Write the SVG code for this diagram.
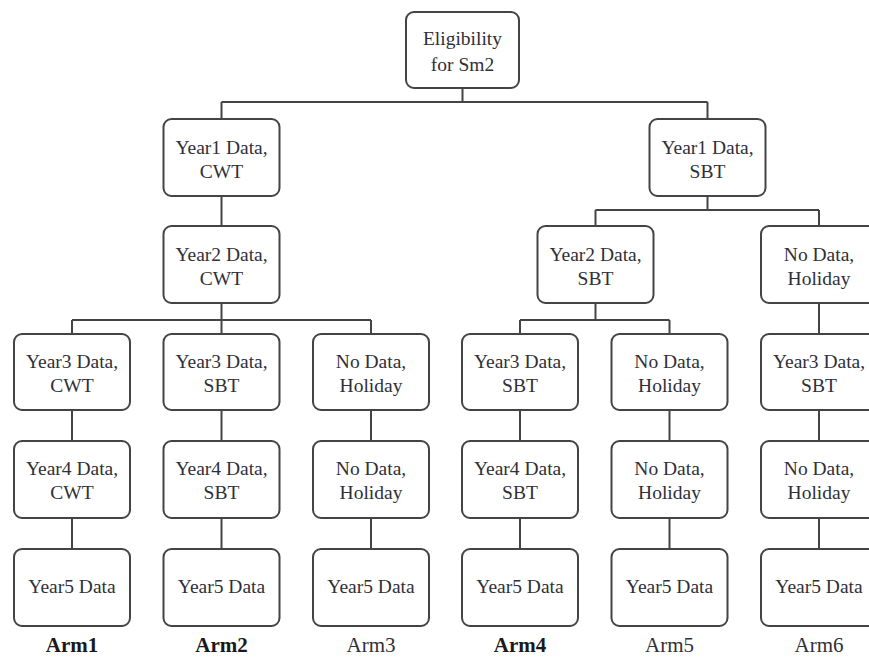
<svg xmlns="http://www.w3.org/2000/svg" width="869" height="658" viewBox="0 0 869 658">
<style>
.box{fill:#fff;stroke:#444;stroke-width:2}
.t{font-size:19.5px;fill:#2f3038;text-anchor:middle}
.arm{font-size:21px;fill:#2f3038;text-anchor:middle}
.b{font-weight:bold;fill:#1a1a1a}
.c{fill:none;stroke:#444;stroke-width:2}
</style>
<rect width="869" height="658" fill="#fff"/>
<g id="connectors">
<path class="c" d="M462.5 88V102M221.5 102H707.5M221.5 102V119M707.5 102V119"/>
<path class="c" d="M221.5 196V226M221.5 303V320M72 320H371M72 320V334M221.5 320V334M371 320V334"/>
<path class="c" d="M707.5 196V210M595.5 210H819M595.5 210V226M819 210V226"/>
<path class="c" d="M595.5 303V320M520 320H669.5M520 320V334M669.5 320V334M819 303V334"/>
<path class="c" d="M72 410V441M221.5 410V441M371 410V441M520 410V441M669.5 410V441M819 410V441"/>
<path class="c" d="M72 518V549M221.5 518V549M371 518V549M520 518V549M669.5 518V549M819 518V549"/>
</g>
<g font-family="Liberation Serif, serif">
<g id="root"><rect class="box" x="406" y="12" width="113" height="76" rx="8"/><text class="t" x="462.5" y="45">Eligibility</text><text class="t" x="462.5" y="71">for Sm2</text></g>
<g id="y1cwt"><rect class="box" x="163.5" y="119" width="116" height="77" rx="8"/><text class="t" x="221.5" y="154">Year1 Data,</text><text class="t" x="221.5" y="178">CWT</text></g>
<g id="y1sbt"><rect class="box" x="649.5" y="119" width="116" height="77" rx="8"/><text class="t" x="707.5" y="154">Year1 Data,</text><text class="t" x="707.5" y="178">SBT</text></g>
<g id="y2cwt"><rect class="box" x="163.5" y="226" width="116" height="77" rx="8"/><text class="t" x="221.5" y="261">Year2 Data,</text><text class="t" x="221.5" y="285">CWT</text></g>
<g id="y2sbt"><rect class="box" x="537.5" y="226" width="116" height="77" rx="8"/><text class="t" x="595.5" y="261">Year2 Data,</text><text class="t" x="595.5" y="285">SBT</text></g>
<g id="r2c6"><rect class="box" x="761" y="226" width="116" height="77" rx="8"/><text class="t" x="819" y="261">No Data,</text><text class="t" x="819" y="285">Holiday</text></g>
<g id="r3c1"><rect class="box" x="14" y="334" width="116" height="76" rx="8"/><text class="t" x="72" y="368">Year3 Data,</text><text class="t" x="72" y="392">CWT</text></g>
<g id="r3c2"><rect class="box" x="163.5" y="334" width="116" height="76" rx="8"/><text class="t" x="221.5" y="368">Year3 Data,</text><text class="t" x="221.5" y="392">SBT</text></g>
<g id="r3c3"><rect class="box" x="313" y="334" width="116" height="76" rx="8"/><text class="t" x="371" y="368">No Data,</text><text class="t" x="371" y="392">Holiday</text></g>
<g id="r3c4"><rect class="box" x="462" y="334" width="116" height="76" rx="8"/><text class="t" x="520" y="368">Year3 Data,</text><text class="t" x="520" y="392">SBT</text></g>
<g id="r3c5"><rect class="box" x="611.5" y="334" width="116" height="76" rx="8"/><text class="t" x="669.5" y="368">No Data,</text><text class="t" x="669.5" y="392">Holiday</text></g>
<g id="r3c6"><rect class="box" x="761" y="334" width="116" height="76" rx="8"/><text class="t" x="819" y="368">Year3 Data,</text><text class="t" x="819" y="392">SBT</text></g>
<g id="r4c1"><rect class="box" x="14" y="441" width="116" height="77" rx="8"/><text class="t" x="72" y="475">Year4 Data,</text><text class="t" x="72" y="499">CWT</text></g>
<g id="r4c2"><rect class="box" x="163.5" y="441" width="116" height="77" rx="8"/><text class="t" x="221.5" y="475">Year4 Data,</text><text class="t" x="221.5" y="499">SBT</text></g>
<g id="r4c3"><rect class="box" x="313" y="441" width="116" height="77" rx="8"/><text class="t" x="371" y="475">No Data,</text><text class="t" x="371" y="499">Holiday</text></g>
<g id="r4c4"><rect class="box" x="462" y="441" width="116" height="77" rx="8"/><text class="t" x="520" y="475">Year4 Data,</text><text class="t" x="520" y="499">SBT</text></g>
<g id="r4c5"><rect class="box" x="611.5" y="441" width="116" height="77" rx="8"/><text class="t" x="669.5" y="475">No Data,</text><text class="t" x="669.5" y="499">Holiday</text></g>
<g id="r4c6"><rect class="box" x="761" y="441" width="116" height="77" rx="8"/><text class="t" x="819" y="475">No Data,</text><text class="t" x="819" y="499">Holiday</text></g>
<g id="r5c1"><rect class="box" x="14" y="549" width="116" height="77" rx="8"/><text class="t" x="72" y="593">Year5 Data</text></g>
<g id="r5c2"><rect class="box" x="163.5" y="549" width="116" height="77" rx="8"/><text class="t" x="221.5" y="593">Year5 Data</text></g>
<g id="r5c3"><rect class="box" x="313" y="549" width="116" height="77" rx="8"/><text class="t" x="371" y="593">Year5 Data</text></g>
<g id="r5c4"><rect class="box" x="462" y="549" width="116" height="77" rx="8"/><text class="t" x="520" y="593">Year5 Data</text></g>
<g id="r5c5"><rect class="box" x="611.5" y="549" width="116" height="77" rx="8"/><text class="t" x="669.5" y="593">Year5 Data</text></g>
<g id="r5c6"><rect class="box" x="761" y="549" width="116" height="77" rx="8"/><text class="t" x="819" y="593">Year5 Data</text></g>
<g id="labels">
<text class="arm b" x="72" y="652">Arm1</text>
<text class="arm b" x="221.5" y="652">Arm2</text>
<text class="arm" x="371" y="652">Arm3</text>
<text class="arm b" x="520" y="652">Arm4</text>
<text class="arm" x="669.5" y="652">Arm5</text>
<text class="arm" x="819" y="652">Arm6</text>
</g>
</g>
</svg>
